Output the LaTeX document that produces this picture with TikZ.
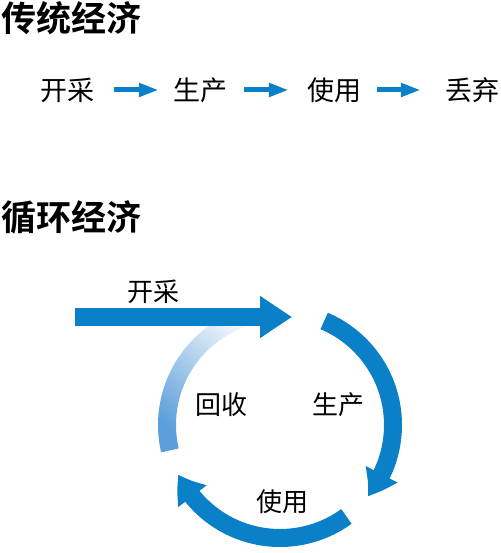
\documentclass[tikz,border=0pt]{standalone}
\usepackage{fontspec}
\setmainfont{Noto Sans CJK SC}[BoldFont=* Bold]
\usetikzlibrary{arrows.meta,bending}
\definecolor{flowblue}{RGB}{10,128,200}
\definecolor{fadeblue}{RGB}{90,158,218}
\tikzset{
  lbl/.style={inner sep=0pt,font=\fontsize{27}{30}\selectfont},
  ttl/.style={inner sep=0pt,anchor=west,font=\fontsize{35}{40}\selectfont\bfseries},
  flow/.style={flowblue,line width=5pt,-{Triangle[width=13pt,length=20pt]}},
  ring/.style={flowblue,line width=18pt,-{Triangle[bend,width=34pt,length=26pt]}}
}
\begin{document}
\begin{tikzpicture}[x=1pt,y=1pt]
\useasboundingbox (0,0) rectangle (500,553);
% traditional
\node[ttl] (t1) at (1,535) {传统经济};
\node[lbl] (kc) at (67,463) {开采};
\node[lbl] (sc) at (200,463) {生产};
\node[lbl] (sy) at (334,463) {使用};
\node[lbl] (dq) at (472,463) {丢弃};
\draw[flow] ([xshift=20pt]kc.east) -- ([xshift=-14pt]sc.west);
\draw[flow] ([xshift=17pt]sc.east) -- ([xshift=-18pt]sy.west);
\draw[flow] ([xshift=16pt]sy.east) -- ([xshift=-24pt]dq.west);
% circular
\node[ttl] (t2) at (1,336) {循环经济};
\coordinate (c) at (280,128);
\shade[top color=white,bottom color=fadeblue,shading angle=-40]
  ([shift={(193:104)}]c) arc[start angle=193,end angle=96,radius=104]
  -- ([shift={(96:122)}]c) arc[start angle=96,end angle=193,radius=122] -- cycle;
\draw[ring] ([shift={(67:113)}]c) arc[start angle=67,end angle=-39,radius=113];
\draw[ring] ([shift={(-54:113)}]c) arc[start angle=-54,end angle=-154,radius=113];
\coordinate (in) at (75,236);
\coordinate (top) at (292,236);
\draw[flowblue,line width=18pt,-{Triangle[width=40pt,length=32pt]}] (in) -- (top);
\node[lbl,font=\fontsize{26}{30}\selectfont] (kc2) at (153,261) {开采};
\node[lbl,font=\fontsize{26}{30}\selectfont] (hs) at (221,148) {回收};
\node[lbl,font=\fontsize{26}{30}\selectfont] (sc2) at (338,148) {生产};
\node[lbl,font=\fontsize{26}{30}\selectfont] (sy2) at (282,51) {使用};
\end{tikzpicture}
\end{document}
